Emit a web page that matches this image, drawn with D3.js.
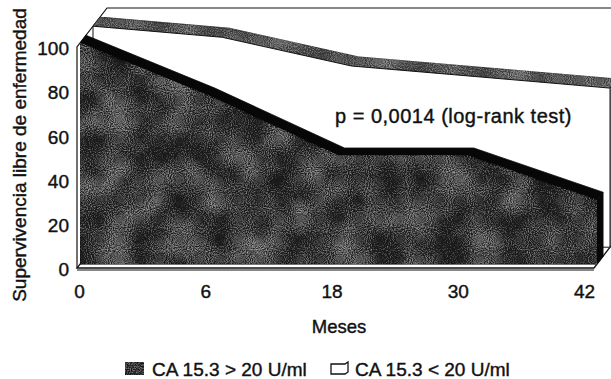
<!DOCTYPE html>
<html>
<head>
<meta charset="utf-8">
<script src="https://cdn.jsdelivr.net/npm/d3@7"></script>
<style>
body { margin: 0; background: #fff; }
text { font-family: "Liberation Sans", Arial, Helvetica, sans-serif; fill: #111; stroke: #111; stroke-width: 0.4px; }
</style>
</head>
<body>
<svg id="chart" width="611" height="379"></svg>
<script>
// data
var months = ['0', '6', '18', '30', '42'];
var highCA = [100, 76, 49, 49, 29];   // CA 15.3 > 20 U/ml (front, dark)
var lowCA = [100, 95, 82, 77, 72];    // CA 15.3 < 20 U/ml (back, white)
var yTicks = [0, 20, 40, 60, 80, 100];
var seriesNames = ['CA 15.3 > 20 U/ml', 'CA 15.3 < 20 U/ml'];
var note = 'p = 0,0014 (log-rank test)';

var svg = d3.select('#chart');

var x = d3.scalePoint().domain(months).range([77, 594]);
var xLab = d3.scalePoint().domain(months).range([79, 584]);
var y = d3.scaleLinear().domain([0, 100]).range([268, 47]);

// oblique depth, one unit goes up and right
var DX = 20, DY = 26;
var pt = function(m, v, d) {
    return [x(m) + d * DX, y(v) - d * DY];
};
var poly = function(pts) {
    return 'M' + pts.map(function(p) { return p[0].toFixed(1) + ',' + p[1].toFixed(1); }).join('L') + 'Z';
};

// grainy texture like the scan
var defs = svg.append('defs');
var f = defs.append('filter').attr('id', 'grain')
    .attr('x', '0%').attr('y', '0%').attr('width', '100%').attr('height', '100%')
    .attr('color-interpolation-filters', 'sRGB');
var opaque = '1 0 0 0 0  1 0 0 0 0  1 0 0 0 0  0 0 0 0 1';
f.append('feTurbulence').attr('type', 'fractalNoise').attr('baseFrequency', 0.95)
    .attr('numOctaves', 1).attr('seed', 4).attr('result', 'fine0');
f.append('feColorMatrix').attr('in', 'fine0').attr('type', 'matrix').attr('values', opaque).attr('result', 'fine');
f.append('feTurbulence').attr('type', 'fractalNoise').attr('baseFrequency', 0.03)
    .attr('numOctaves', 2).attr('seed', 9).attr('result', 'blot0');
f.append('feColorMatrix').attr('in', 'blot0').attr('type', 'matrix').attr('values', opaque).attr('result', 'blot');
f.append('feComposite').attr('in', 'fine').attr('in2', 'blot').attr('operator', 'arithmetic')
    .attr('k1', 0).attr('k2', 0.8).attr('k3', 0.4).attr('k4', -0.45).attr('result', 'mix');
f.append('feColorMatrix').attr('in', 'mix').attr('type', 'matrix')
    .attr('values', '0 0 0 0 0.62  0 0 0 0 0.62  0 0 0 0 0.62  1.9 0 0 0 -0.13').attr('result', 'spk');
f.append('feComposite').attr('in', 'spk').attr('in2', 'SourceGraphic').attr('operator', 'in').attr('result', 'cl');
var fm = f.append('feMerge');
fm.append('feMergeNode').attr('in', 'SourceGraphic');
fm.append('feMergeNode').attr('in', 'cl');

var last = months[months.length - 1];
var WALL = 1.5;

// walls and floor
svg.append('path')
    .attr('d', poly([pt('0', 0, 0), pt(last, 0, 0), pt(last, 0, WALL), pt('0', 0, WALL)]))
    .attr('fill', '#fff').attr('stroke', '#111').attr('stroke-width', 1.3);
svg.append('path')
    .attr('d', 'M' + pt('0', 0, 0) + 'L' + pt('0', 100, 0) + 'L' + pt('0', 100, WALL) + 'L' + [640, pt('0', 100, WALL)[1]])
    .attr('fill', 'none').attr('stroke', '#111').attr('stroke-width', 1.2);
svg.append('line')
    .attr('x1', pt('0', 0, 0)[0]).attr('x2', pt(last, 0, 0)[0])
    .attr('y1', y(0) + 2).attr('y2', y(0) + 2)
    .attr('stroke', '#111').attr('stroke-width', 1.2);

// draws one series as an extruded area between two depths
var drawSeries = function(vals, d0, d1, faceFill, faceFilter, topFill, topFilter, sideFill, strokeCol) {
    var g = svg.append('g');
    var front = months.map(function(m, i) { return pt(m, vals[i], d0); });
    var back = months.map(function(m, i) { return pt(m, vals[i], d1); });

    // top band
    g.append('path')
        .attr('d', poly(front.concat(back.slice().reverse())))
        .attr('fill', topFill).attr('stroke', strokeCol).attr('stroke-width', 0.8)
        .attr('filter', topFilter);

    // right side
    var n = vals.length - 1;
    g.append('path')
        .attr('d', poly([pt(last, vals[n], d0), pt(last, vals[n], d1), pt(last, 0, d1), pt(last, 0, d0)]))
        .attr('fill', sideFill).attr('stroke', strokeCol).attr('stroke-width', 1);

    // front face
    g.append('path')
        .attr('d', poly(front.concat([pt(last, 0, d0), pt('0', 0, d0)])))
        .attr('fill', faceFill).attr('stroke', strokeCol).attr('stroke-width', 1)
        .attr('filter', faceFilter);
};

drawSeries(lowCA, 0.8, 1.15, '#fff', null, '#3a3a3a', 'url(#grain)', '#fff', '#111');
drawSeries(highCA, 0.15, 0.45, '#1a1a1a', 'url(#grain)', '#070707', null, '#070707', '#0a0a0a');

// axes
var yAxis = svg.append('g').attr('transform', 'translate(69,0)')
    .call(d3.axisLeft(y).tickValues(yTicks).tickSize(0).tickPadding(0));
yAxis.select('.domain').remove();
yAxis.attr('font-size', 19).attr('font-family', null);
yAxis.selectAll('text').attr('dy', '0.4em').style('fill', '#111');

var xAxis = svg.append('g').attr('transform', 'translate(0,284)')
    .call(d3.axisBottom(xLab).tickSize(0).tickPadding(0));
xAxis.select('.domain').remove();
xAxis.attr('font-size', 19).attr('font-family', null);
xAxis.selectAll('text').style('fill', '#111');

svg.append('text').attr('x', 339).attr('y', 333).attr('text-anchor', 'middle')
    .attr('font-size', 18.5).text('Meses');

svg.append('text').attr('transform', 'translate(26,155) rotate(-90)')
    .attr('text-anchor', 'middle').attr('font-size', 19)
    .text('Supervivencia libre de enfermedad');

svg.append('text').attr('x', 335).attr('y', 123).attr('font-size', 20)
    .attr('letter-spacing', 0.5).text(note);

// legend
svg.append('rect').attr('x', 125).attr('y', 362).attr('width', 19).attr('height', 13)
    .attr('fill', '#1a1a1a').attr('stroke', '#111').attr('filter', 'url(#grain)');
svg.append('text').attr('x', 152).attr('y', 376).attr('font-size', 19).text(seriesNames[0]);
svg.append('path').attr('d', 'M331,364h14l3,-2v10l-3,2h-14z')
    .attr('fill', '#fff').attr('stroke', '#111').attr('stroke-width', 1.3);
svg.append('text').attr('x', 355).attr('y', 376).attr('font-size', 19).text(seriesNames[1]);
</script>
</body>
</html>
